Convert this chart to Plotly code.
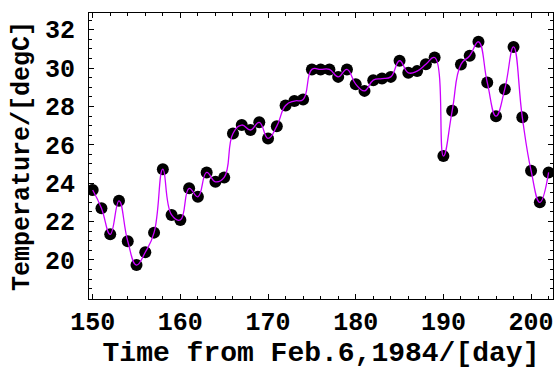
import plotly.graph_objects as go

days = list(range(150, 203))
temps = [23.64, 22.69, 21.33, 23.08, 20.97, 19.73, 20.40, 21.42, 24.73, 22.34,
         22.08, 23.73, 23.29, 24.56, 24.07, 24.30, 26.59, 27.03, 26.77, 27.17,
         26.33, 26.97, 28.05, 28.28, 28.36, 29.93, 29.93, 29.93, 29.54, 29.93,
         29.16, 28.81, 29.37, 29.45, 29.54, 30.38, 29.75, 29.84, 30.20, 30.55,
         25.41, 27.77, 30.19, 30.64, 31.37, 29.25, 27.49, 28.90, 31.10, 27.43,
         24.65, 23.00, 24.56]

x_ticks = [150, 160, 170, 180, 190, 200]
y_ticks = [20, 22, 24, 26, 28, 30, 32]

FONT = "Courier New, Liberation Mono, monospace"

fig = go.Figure()
fig.add_trace(go.Scatter(x=days, y=temps, mode="markers",
                         marker=dict(color="black", size=12), showlegend=False))
fig.add_trace(go.Scatter(x=days, y=temps, mode="lines",
                         line=dict(color="rgb(204,0,255)", width=1.3,
                                   shape="spline", smoothing=1.3),
                         showlegend=False))

axis_common = dict(showgrid=False, zeroline=False, showline=True, linecolor="black",
                   linewidth=1, mirror="allticks", ticks="inside", ticklen=5,
                   tickcolor="black", tickwidth=1,
                   tickfont=dict(family=FONT, size=25, color="black", weight="bold"))

fig.update_xaxes(range=[149.58, 202.5], tickvals=x_ticks, **axis_common,
                 minor=dict(dtick=2, ticklen=3, ticks="inside", tickcolor="black", tick0=150),
                 ticklabelstandoff=0,
                 title=dict(text="Time from Feb.6,1984/[day]", standoff=4,
                            font=dict(family=FONT, size=28, color="black", weight="bold")))
fig.update_yaxes(range=[17.96, 32.87], tickvals=y_ticks, **axis_common,
                 minor=dict(dtick=0.5, ticklen=3, ticks="inside", tickcolor="black", tick0=18),
                 ticklabelstandoff=8,
                 title=dict(text="Temperature/[degC]", standoff=8,
                            font=dict(family=FONT, size=25, color="black", weight="bold")))

fig.update_layout(width=558, height=374, plot_bgcolor="white", paper_bgcolor="white",
                  margin=dict(l=89, r=5, t=13, b=75))

fig.write_html("out.html", config={"displayModeBar": False},
               post_script="document.body.style.margin='0';document.body.style.overflow='hidden';")
